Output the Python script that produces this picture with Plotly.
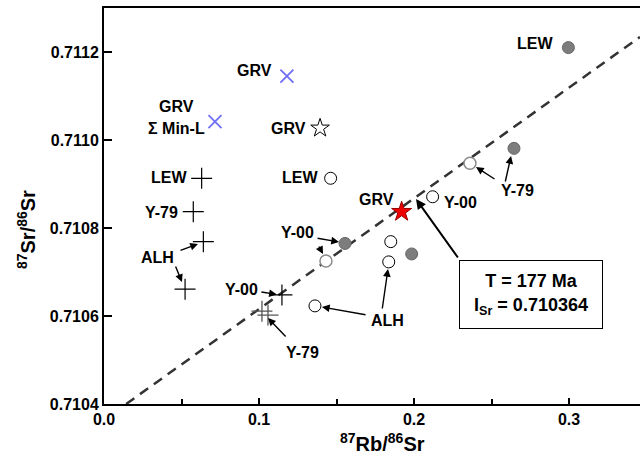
import numpy as np
import plotly.graph_objects as go

# ---------------- data ----------------
# open circles (black edge)
open_x = [0.1462, 0.1850, 0.1837, 0.1361, 0.2120]
open_y = [0.710913, 0.710769, 0.710723, 0.710623, 0.710871]
# open circles with grey edge
opengrey_x = [0.1432, 0.2361]
opengrey_y = [0.710725, 0.710947]
# filled grey circles
filled_x = [0.1555, 0.1985, 0.2645, 0.2996]
filled_y = [0.710765, 0.710741, 0.710981, 0.711210]
# black crosses (+)
plus_x = [0.0630, 0.0576, 0.0641, 0.0523, 0.1148]
plus_y = [0.710913, 0.710837, 0.710769, 0.710661, 0.710648]
# grey crosses (Y-79 cluster)
plusgrey_x = [0.1019, 0.1058]
plusgrey_y = [0.710611, 0.710602]
# blue x marks
bluex_x = [0.1180, 0.0716]
bluex_y = [0.711145, 0.711042]
# open star
ostar_x = [0.1394]
ostar_y = [0.711027]
# red star
rstar_x = [0.1920]
rstar_y = [0.710837]

# isochron
I_Sr = 0.710364
slope = 0.0025166
iso_x = [(0.7104 - I_Sr) / slope, 0.3458]
iso_y = [I_Sr + slope * v for v in iso_x]

# labels: (text, x, y, xanchor)
labels = [
    ("GRV", 0.0968, 0.711159, "center"),
    ("GRV", 0.0465, 0.711077, "center"),
    ("Σ Min-L", 0.0470, 0.711027, "center"),
    ("GRV", 0.1316, 0.711027, "right"),
    ("LEW", 0.0548, 0.710914, "right"),
    ("Y-79", 0.0490, 0.710836, "right"),
    ("ALH", 0.0342, 0.710732, "center"),
    ("Y-00", 0.1248, 0.710789, "center"),
    ("Y-00", 0.0884, 0.710661, "center"),
    ("Y-79", 0.1281, 0.710518, "center"),
    ("ALH", 0.1829, 0.710589, "center"),
    ("GRV", 0.1761, 0.710864, "center"),
    ("Y-00", 0.2303, 0.710859, "center"),
    ("Y-79", 0.2665, 0.710886, "center"),
    ("LEW", 0.2780, 0.711220, "center"),
    ("LEW", 0.1394, 0.710914, "right"),
]

# arrows: (tail_x, tail_y, head_x, head_y)
arrows = [
    (0.1368, 0.7107773, 0.1516, 0.7107682),
    (0.1381, 0.7107614, 0.1413, 0.7107409),
    (0.0484, 0.7107477, 0.0606, 0.7107636),
    (0.0458, 0.7107159, 0.0503, 0.7106773),
    (0.1006, 0.7106552, 0.1115, 0.7106490),
    (0.1181, 0.7105500, 0.1058, 0.7105955),
    (0.1697, 0.7106023, 0.1406, 0.7106205),
    (0.1794, 0.7106136, 0.1832, 0.7107068),
    (0.2529, 0.7109091, 0.2400, 0.7109386),
    (0.2587, 0.7109023, 0.2626, 0.7109636),
]
box_arrow = (0.2290, 0.7107295, 0.2013, 0.7108659)
box_text = "T = 177 Ma<br>I<sub>Sr</sub> = 0.710364"

FONT = "Liberation Sans"

fig = go.Figure()
fig.add_trace(go.Scatter(x=iso_x, y=iso_y, mode="lines",
                         line=dict(color="#333333", width=2.5, dash="10px,7px"),
                         showlegend=False, hoverinfo="skip"))
fig.add_trace(go.Scatter(x=plus_x, y=plus_y, mode="markers",
                         marker=dict(symbol="cross-thin-open", size=15, color="black",
                                     line=dict(color="black", width=1.2)),
                         showlegend=False))
fig.add_trace(go.Scatter(x=plusgrey_x, y=plusgrey_y, mode="markers",
                         marker=dict(symbol="cross-thin-open", size=15, color="#555555",
                                     line=dict(color="#555555", width=1.3)),
                         showlegend=False))
fig.add_trace(go.Scatter(x=bluex_x, y=bluex_y, mode="markers",
                         marker=dict(symbol="x-thin-open", size=13, color="#6f6ff5",
                                     line=dict(color="#6f6ff5", width=1.8)),
                         showlegend=False))
fig.add_trace(go.Scatter(x=ostar_x, y=ostar_y, mode="markers",
                         marker=dict(symbol="star-open", size=14, color="black",
                                     line=dict(color="black", width=1)),
                         showlegend=False))
fig.add_trace(go.Scatter(x=filled_x, y=filled_y, mode="markers",
                         marker=dict(symbol="circle", size=12, color="#7d7d7d",
                                     line=dict(color="#666666", width=1)),
                         showlegend=False))
fig.add_trace(go.Scatter(x=open_x, y=open_y, mode="markers",
                         marker=dict(symbol="circle", size=12, color="white",
                                     line=dict(color="black", width=1)),
                         showlegend=False))
fig.add_trace(go.Scatter(x=opengrey_x, y=opengrey_y, mode="markers",
                         marker=dict(symbol="circle", size=12, color="white",
                                     line=dict(color="#8a8a8a", width=1.5)),
                         showlegend=False))
fig.add_trace(go.Scatter(x=rstar_x, y=rstar_y, mode="markers",
                         marker=dict(symbol="star", size=15, color="#ee0000",
                                     line=dict(color="#990000", width=1)),
                         showlegend=False))

ann = []
for t, x, y, xa in labels:
    ann.append(dict(text=t, x=x, y=y, xref="x", yref="y", xanchor=xa, yanchor="middle",
                    showarrow=False, font=dict(family=FONT, size=16, color="black", weight="bold")))
for tx, ty, hx, hy in arrows:
    ann.append(dict(text="", x=hx, y=hy, ax=tx, ay=ty, xref="x", yref="y",
                    axref="x", ayref="y", showarrow=True, arrowhead=2, arrowsize=1.1,
                    arrowwidth=1.4, arrowcolor="black", standoff=0, startstandoff=0))
tx, ty, hx, hy = box_arrow
ann.append(dict(text="", x=hx, y=hy, ax=tx, ay=ty, xref="x", yref="y",
                axref="x", ayref="y", showarrow=True, arrowhead=2, arrowsize=1,
                arrowwidth=2, arrowcolor="black", standoff=0, startstandoff=0))
ann.append(dict(text=box_text, x=0.2755, y=0.71065, xref="x", yref="y",
                showarrow=False, width=142, height=67, borderpad=0,
                bordercolor="black", borderwidth=1, bgcolor="white",
                font=dict(family=FONT, size=18, color="black", weight="bold")))
# axis titles
ann.append(dict(text="<sup>87</sup>Sr/<sup>86</sup>Sr", x=-0.172, y=0.44,
                xref="paper", yref="paper", textangle=-90, showarrow=False,
                font=dict(family=FONT, size=20, color="black", weight="bold")))
ann.append(dict(text="<sup>87</sup>Rb/<sup>86</sup>Sr", x=0.519, y=-0.135,
                xref="paper", yref="paper", showarrow=False,
                font=dict(family=FONT, size=20, color="black", weight="bold")))

fig.update_layout(
    width=640, height=463,
    margin=dict(l=104, r=0, t=8, b=59),
    plot_bgcolor="white", paper_bgcolor="white",
    annotations=ann,
    xaxis=dict(range=[0, 0.3458], tickvals=[0, 0.1, 0.2, 0.3], tickformat=".1f",
               ticks="inside", ticklen=6, tickwidth=1.5, tickcolor="black",
               minor=dict(dtick=0.05, tick0=0, ticks="inside", ticklen=5, tickwidth=1.5, tickcolor="black"),
               showline=True, linewidth=2, linecolor="black", mirror=True,
               showgrid=False, zeroline=False,
               tickfont=dict(family=FONT, size=16, color="black", weight="bold")),
    yaxis=dict(range=[0.7104, 0.7113], tickvals=[0.7104, 0.7106, 0.7108, 0.7110, 0.7112],
               tickformat=".4f", ticks="inside", ticklen=8, tickwidth=1.5, tickcolor="black",
               showline=True, linewidth=2, linecolor="black",
               showgrid=False, zeroline=False,
               tickfont=dict(family=FONT, size=16, color="black", weight="bold")),
)

fig.write_html("out.html")
